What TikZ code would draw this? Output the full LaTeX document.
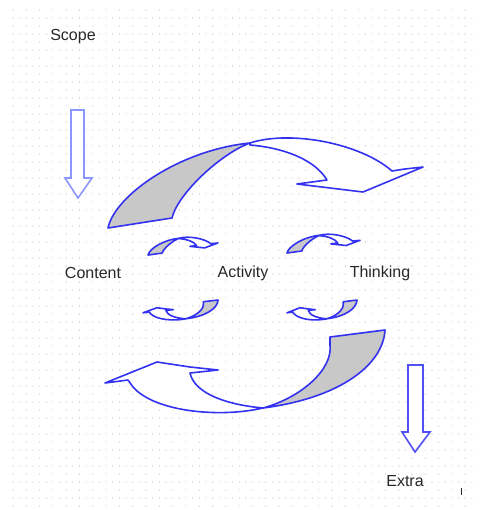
\documentclass[tikz,border=0pt]{standalone}
\usepackage{fontspec}
\setmainfont{Liberation Sans}
\definecolor{arrowblue}{RGB}{50,50,240}
\definecolor{lightblue}{RGB}{140,150,255}
\definecolor{midblue}{RGB}{80,80,245}
\definecolor{fillgray}{RGB}{200,200,200}
\definecolor{dotgray}{RGB}{185,185,185}
\definecolor{textgray}{RGB}{40,40,40}
\tikzset{
  curvedline/.style={draw=arrowblue, line width=1.6pt, line join=round},
  grayband/.style={curvedline, fill=fillgray},
  whiteband/.style={curvedline, fill=white},
  downarrow/.style={line width=1.6pt, fill=white, line join=miter},
  label/.style={text=textgray, font=\fontsize{16}{18}\selectfont, inner sep=0pt}
}
\newcommand\topGrayPath{(108,228) .. controls (115,195) and (180,150) .. (250,143) .. controls (222,153) and (178,193) .. (172,218) -- cycle}
\newcommand\topWhitePath{(250,143) .. controls (290,130) and (360,143) .. (392,171) -- (405,169) -- (423,167) -- (363,192) -- (297,184) -- (327,180) .. controls (315,160) and (285,148) .. (250,145) -- cycle}
\newcommand\botGrayPath{(330,337) -- (385,330) .. controls (383,365) and (340,398) .. (263,408) .. controls (300,398) and (333,370) .. (330,345) -- cycle}
\newcommand\botWhitePath{(263,408) .. controls (220,418) and (155,412) .. (133,387) -- (128,380) -- (105,383) -- (157,362) -- (190,367) -- (218,370) -- (190,373) .. controls (195,395) and (230,405) .. (263,408) -- cycle}
\begin{document}
\begin{tikzpicture}[x=1pt,y=-1pt]
\useasboundingbox (0,0) rectangle (484,510);
\fill[white] (0,0) rectangle (484,510);
% dotted background grid
\foreach \yy in {10,26,...,506} {
  \foreach \xx in {13,26.3,...,476} { \fill[dotgray] (\xx,\yy) circle (0.55); }
}
\foreach \yy in {18,34,...,506} {
  \foreach \xx in {13,19.65,...,476} { \fill[dotgray] (\xx,\yy) circle (0.55); }
}
% labels
\node[label] (scope) at (73,37) {Scope};
\node[label] (content) at (93,273) {Content};
\node[label] (activity) at (243,273) {Activity};
\node[label] (thinking) at (380,273) {Thinking};
\node[label] (extra) at (405,481) {Extra};
% straight down arrows
\draw[downarrow, draw=lightblue] (71,110) -- (84,110) -- (84,178) -- (92,178) -- (78,198) -- (65,178) -- (71,178) -- cycle;
\draw[downarrow, draw=midblue] (408,365) -- (423,365) -- (423,432) -- (430,432) -- (415,452) -- (402,432) -- (408,432) -- cycle;
% big curved arrows
\path[whiteband] \topWhitePath;
\path[grayband] \topGrayPath;
\path[whiteband] \botWhitePath;
\path[grayband] \botGrayPath;
% small curved arrows
\begin{scope}[shift={(124,209.9)}, xscale=0.222, yscale=0.198]
  \path[whiteband] \topWhitePath;
  \path[grayband] \topGrayPath;
\end{scope}
\begin{scope}[shift={(261.9,205.4)}, xscale=0.232, yscale=0.209]
  \path[whiteband] \topWhitePath;
  \path[grayband] \topGrayPath;
\end{scope}
\begin{scope}[shift={(114.9,220.5)}, xscale=0.268, yscale=0.241]
  \path[whiteband] \botWhitePath;
  \path[grayband] \botGrayPath;
\end{scope}
\begin{scope}[shift={(260.75,220.5)}, xscale=0.25, yscale=0.241]
  \path[whiteband] \botWhitePath;
  \path[grayband] \botGrayPath;
\end{scope}
% small tick mark
\draw[textgray, line width=0.8pt] (461,488) -- (461,495);
\end{tikzpicture}
\end{document}
